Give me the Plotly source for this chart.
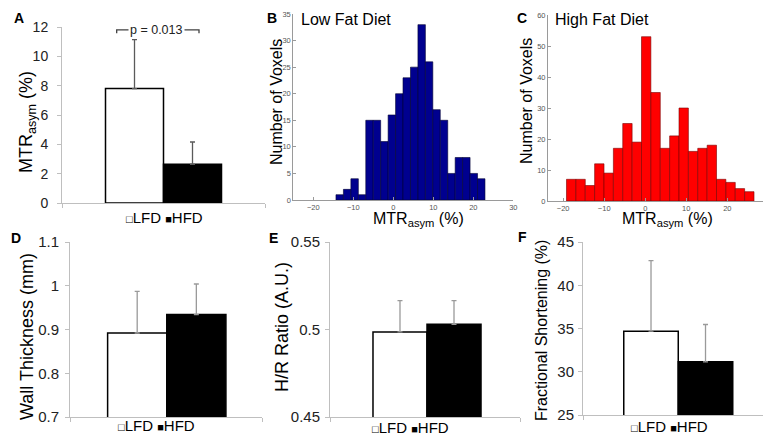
import plotly.graph_objects as go

W, H = 763, 443
FONT = "Arial, Liberation Sans, sans-serif"

# ---------------- data ----------------
groups = ["LFD", "HFD"]
mtr_mean = [7.80, 2.64]
mtr_err = [3.34, 1.52]
wall_mean = [0.892, 0.934]
wall_err = [0.095, 0.070]
hr_mean = [0.4986, 0.503]
hr_err = [0.0179, 0.0135]
fs_mean = [34.69, 31.15]
fs_err = [8.15, 4.31]

# histograms: bin centres (MTRasym %) and voxel counts
lfd_bin_centers = [-13.40, -11.54, -9.67, -7.81, -5.95, -4.09, -2.22, -0.36, 1.50, 3.36,
                   5.23, 7.09, 8.95, 10.81, 12.68, 14.54, 16.40, 18.26, 20.13, 21.99]
lfd_counts = [1, 2, 4, 1, 15, 15, 11, 16, 20, 23, 25, 33, 26, 17, 15, 5, 8, 8, 5, 4]
lfd_bin_width = 1.8625

hfd_bin_centers = [-18.05, -15.76, -13.48, -11.19, -8.91, -6.62, -4.34, -2.05, 0.23, 2.52,
                   4.80, 7.09, 9.37, 11.66, 13.94, 16.23, 18.51, 20.80, 23.08, 25.37]
hfd_counts = [7, 7, 5, 12, 9, 17, 25, 19, 53, 35, 17, 21, 30, 16, 17, 18, 7, 6, 4, 3]
hfd_bin_width = 2.285

hist_xticks = [-20, -10, 0, 10, 20, 30]
p_text = "p = 0.013"


def xd(a, b):
    return [a / W, b / W]


def yd(top, bottom):
    return [1 - bottom / H, 1 - top / H]


fig = go.Figure()

# ---------------- bar panels ----------------
bar_panels = [
    ("x", "y", mtr_mean, mtr_err, "#5a5a5a"),
    ("x4", "y4", wall_mean, wall_err, "#9a9a9a"),
    ("x5", "y5", hr_mean, hr_err, "#9a9a9a"),
    ("x6", "y6", fs_mean, fs_err, "#9a9a9a"),
]
for xa, ya, means, errs, ecol in bar_panels:
    for i, g in enumerate(groups):
        fig.add_trace(go.Bar(
            x=[i], y=[means[i]], width=1, xaxis=xa, yaxis=ya, name=g,
            showlegend=False,
            marker=dict(color="white" if g == "LFD" else "black",
                        line=dict(color="black", width=1.5)),
            error_y=dict(type="data", array=[errs[i]], arrayminus=[0], symmetric=False,
                         color=ecol, thickness=1.3, width=2.5),
        ))

# ---------------- histograms ----------------
fig.add_trace(go.Bar(x=lfd_bin_centers, y=lfd_counts, width=lfd_bin_width,
                     xaxis="x2", yaxis="y2", showlegend=False, name="Low Fat Diet",
                     marker=dict(color="#00008F", line=dict(color="#000033", width=0.6))))
fig.add_trace(go.Bar(x=hfd_bin_centers, y=hfd_counts, width=hfd_bin_width,
                     xaxis="x3", yaxis="y3", showlegend=False, name="High Fat Diet",
                     marker=dict(color="#FF0000", line=dict(color="#7a0000", width=0.6))))

axis_gray = "#bfbfbf"
tickfont_bar = dict(family=FONT, color="#222222")


def bar_xaxis(dom, rng, anchor):
    return dict(domain=xd(*dom), range=rng, showgrid=False, zeroline=False,
                showline=True, linecolor=axis_gray, linewidth=1, automargin=False,
                tickvals=[rng[0] + 1e-6, rng[1] - 1e-6], ticktext=["", ""],
                ticks="outside", ticklen=4, tickcolor=axis_gray, anchor=anchor)


def bar_yaxis(dom, rng, dtick, size, standoff, anchor):
    return dict(domain=yd(*dom), range=rng, dtick=dtick, tick0=rng[0], showgrid=False,
                zeroline=False, showline=True, linecolor=axis_gray, linewidth=1,
                ticks="outside", ticklen=4, tickcolor=axis_gray, automargin=False,
                tickfont=dict(size=size, **tickfont_bar), ticklabelstandoff=standoff,
                anchor=anchor)


def hist_xaxis(dom, rng, anchor):
    return dict(domain=xd(*dom), range=rng, showgrid=False, zeroline=False,
                showline=True, linecolor="#9a9a9a", linewidth=1, automargin=False,
                tickvals=hist_xticks, ticks="inside", ticklen=3, tickcolor="#9a9a9a",
                tickfont=dict(size=7.5, family=FONT, color="#555555"), anchor=anchor)


def hist_yaxis(dom, rng, dtick, anchor):
    return dict(domain=yd(*dom), range=rng, dtick=dtick, showgrid=False, zeroline=False,
                showline=True, linecolor="#9a9a9a", linewidth=1, automargin=False,
                ticks="inside", ticklen=3, tickcolor="#9a9a9a",
                tickfont=dict(size=7.5, family=FONT, color="#555555"), anchor=anchor)


fig.update_layout(
    template="none",
    width=W, height=H, margin=dict(l=0, r=0, t=0, b=0, pad=0), autosize=False,
    paper_bgcolor="white", plot_bgcolor="white", barmode="overlay", showlegend=False,
    font=dict(family=FONT, color="black"),
    xaxis=bar_xaxis((62, 265), [-1.25, 2.25], "y"),
    yaxis=bar_yaxis((27, 203), [0, 12], 2, 14, 6, "x"),
    xaxis2=hist_xaxis((293.3, 513.3), [-25, 30], "y2"),
    yaxis2=hist_yaxis((14, 200), [0, 35], 5, "x2"),
    xaxis3=hist_xaxis((548, 763), [-23.7, 28.7], "y3"),
    yaxis3=hist_yaxis((15, 201), [0, 60], 10, "x3"),
    xaxis4=bar_xaxis((70, 262), [-1.136, 2.11], "y4"),
    yaxis4=bar_yaxis((242, 417), [0.7, 1.1], 0.1, 15, 3, "x4"),
    xaxis5=bar_xaxis((330, 520), [-1.296, 2.222], "y5"),
    yaxis5=bar_yaxis((242, 417), [0.45, 0.55], 0.05, 15, 2, "x5"),
    xaxis6=bar_xaxis((583, 763), [-1.248, 2.055], "y6"),
    yaxis6=bar_yaxis((242, 415), [25, 45], 5, 15, 1, "x6"),
)

ann = []


def pa(x, y, text, size, **kw):
    d = dict(x=x / W, y=1 - y / H, xref="paper", yref="paper", text=text, showarrow=False,
             font=dict(size=size, family=FONT, color="black"), xanchor="center",
             yanchor="middle")
    d.update(kw)
    ann.append(d)


# panel labels
for lab, (x, y) in zip("ABCDEF", [(19, 18), (272, 18), (522, 18), (16, 238), (273, 238), (522, 237)]):
    pa(x, y, "<b>%s</b>" % lab, 14)

# y titles
pa(27, 122, "MTR<sub>asym</sub> (%)", 18, textangle=-90)
pa(276, 102, "Number of Voxels", 16, textangle=-90)
pa(527, 101, "Number of Voxels", 16, textangle=-90)
pa(27, 337, "Wall Thickness (mm)", 18, textangle=-90)
pa(282, 327, "H/R Ratio (A.U.)", 18, textangle=-90)
pa(541, 331, "Fractional Shortening (%)", 16, textangle=-90)

# histogram x titles and titles
pa(418, 219, "MTR<sub>asym</sub> (%)", 16)
pa(667, 219, "MTR<sub>asym</sub> (%)", 16)
pa(299, 19, "Low Fat Diet", 16, xanchor="left")
pa(553, 20, "High Fat Diet", 16, xanchor="left")

# legends
leg = ('<span style="font-size:11px">\u25A1</span>LFD '
       '<span style="font-size:11px">\u25A0</span>HFD')
for x, y in [(164, 217), (156, 425), (410, 427), (669, 426)]:
    pa(x, y, leg, 15)

# significance bracket on panel A (data coordinates of panel A)
br_left, br_right = -0.307, 1.112
br_top = max(m + e for m, e in zip(mtr_mean, mtr_err)) + 0.66
br_foot = br_top - 0.23
fig.add_shape(type="path", xref="x", yref="y",
              path="M %f,%f L %f,%f L %f,%f L %f,%f" % (br_left, br_foot, br_left, br_top,
                                                         br_right, br_top, br_right, br_foot),
              line=dict(color="#404040", width=1.3))
ann.append(dict(x=(br_left + br_right) / 2 - 0.02, y=br_top, xref="x", yref="y", text=p_text,
                showarrow=False, bgcolor="white", borderpad=1,
                font=dict(size=12.5, family=FONT, color="#222222"),
                xanchor="center", yanchor="middle"))

fig.update_layout(annotations=ann)
fig.write_html(
    "out.html",
    config={"displayModeBar": False, "staticPlot": True},
    post_script="document.body.style.margin='0';document.body.style.overflow='hidden';",
)
